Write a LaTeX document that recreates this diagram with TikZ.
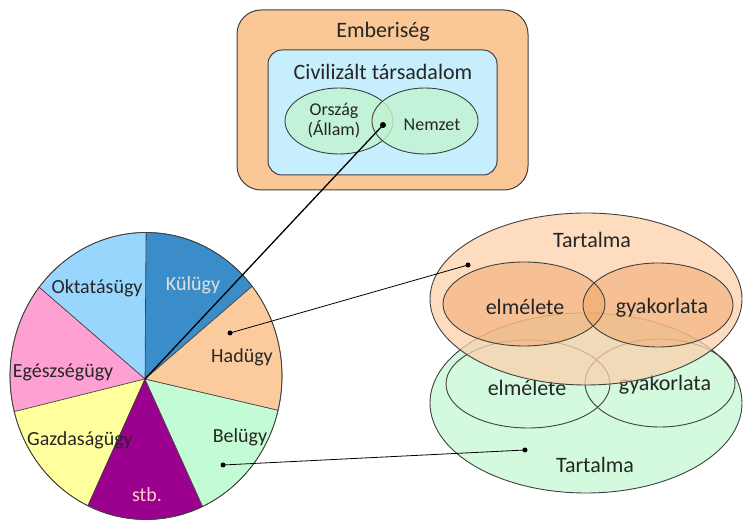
\documentclass[tikz,border=0pt]{standalone}
\usepackage{fontspec}
\setmainfont{Carlito}
\usetikzlibrary{calc,shapes.geometric}
\definecolor{boxorange}{HTML}{FAC897}
\definecolor{boxblue}{HTML}{C6EEFD}
\definecolor{venngreen}{HTML}{C2F4CF}
\definecolor{kul}{HTML}{3A8DC8}
\definecolor{okt}{HTML}{99D6FE}
\definecolor{egesz}{HTML}{FFA0D2}
\definecolor{gazd}{HTML}{FFFF9E}
\definecolor{stbcol}{HTML}{9C008E}
\definecolor{bel}{HTML}{C3FCD4}
\definecolor{had}{HTML}{FCCB9D}
\definecolor{rorange}{HTML}{FCD0AA}
\definecolor{rinner}{HTML}{F0A060}
\definecolor{rgreen}{HTML}{D3F9DE}
\definecolor{edgecol}{HTML}{404040}
\definecolor{txt}{HTML}{262626}
\newcommand\pieslice[3]{%
  \filldraw[fill=#1, draw=edgecol, line width=0.6pt] (pv) --
    ($(pc)+(#2:136pt and 143.5pt)$)
    arc[start angle=#2, end angle=#3, x radius=136pt, y radius=143.5pt] -- cycle;}
\begin{document}
\begin{tikzpicture}[x=1pt,y=1pt,
  roundbox/.style={draw=edgecol, line width=1pt, rectangle, rounded corners=#1, inner sep=0pt},
  vennell/.style={draw=edgecol, line width=0.9pt, ellipse, fill=venngreen, fill opacity=0.8, inner sep=0pt},
  bigtext/.style={font=\fontsize{22}{26}\selectfont, text=txt, inner sep=0pt},
  midtext/.style={font=\fontsize{18}{20}\selectfont, text=txt, inner sep=0pt, align=center},
  pietext/.style={font=\fontsize{20}{24}\selectfont, text=txt, inner sep=0pt},
  dotnode/.style={circle, fill=black, inner sep=0pt, minimum size=6pt},
  conn/.style={draw=black, line width=0.8pt},
  rell/.style={draw=edgecol, line width=0.9pt}]
\useasboundingbox (0,0) rectangle (743,521);

% ---------- top box ----------
\node[roundbox=24pt, fill=boxorange, minimum width=291pt, minimum height=180pt] (emb) at (382.5,421) {};
\node[roundbox=14pt, fill=boxblue, minimum width=229pt, minimum height=125pt] (civ) at (382.5,408.5) {};
\node[bigtext] (embt) at (383,489) {Emberiség};
\node[bigtext] (civt) at (383,449) {Civilizált társadalom};
\node[vennell, minimum width=108pt, minimum height=66pt] (orszag) at (339,400) {};
\node[vennell, minimum width=106pt, minimum height=66pt] (nemzet) at (425,400) {};
\node[midtext] (orszagt) at (334,400) {Ország\\(Állam)};
\node[midtext] (nemzett) at (432,396) {Nemzet};

% ---------- pie ----------
\coordinate (pc) at (146,145);
\coordinate (pv) at (145,142);
\pieslice{kul}{38.7}{90}
\pieslice{okt}{90}{141.8}
\pieslice{egesz}{141.8}{194.4}
\pieslice{gazd}{194.4}{244.7}
\pieslice{stbcol}{244.7}{294.6}
\pieslice{bel}{294.6}{346.2}
\pieslice{had}{346.2}{398.7}
\draw[draw=edgecol, line width=0.8pt] (pc) ellipse [x radius=136pt, y radius=143.5pt];
\node[pietext, text=white!88!black] (kult) at (193,236) {Külügy};
\node[pietext] (oktt) at (97,233) {Oktatásügy};
\node[pietext] (egeszt) at (63,149) {Egészségügy};
\node[pietext] (hadt) at (242,164) {Hadügy};
\node[pietext] (gazdt) at (80,81) {Gazdaságügy};
\node[pietext] (belt) at (240,84) {Belügy};
\node[pietext, text=pink!80!white] (stbt) at (147,26) {stb.};

% ---------- right: green ----------
\fill[rgreen] (586,118) ellipse [x radius=156pt, y radius=90pt];
\draw[rell] (586,118) ellipse [x radius=156pt, y radius=90pt];
\draw[rell] (528,137) ellipse [x radius=82pt, y radius=44pt];
\draw[rell] (660,138) ellipse [x radius=75pt, y radius=44pt];
\node[bigtext] (gelm) at (527,133) {elmélete};
\node[bigtext] (ggyak) at (665,136) {gyakorlata};
\node[bigtext] (gtart) at (595,56) {Tartalma};

% ---------- right: orange ----------
\fill[rorange, fill opacity=0.75] (586,222) ellipse [x radius=156pt, y radius=86pt];
\draw[rell] (586,222) ellipse [x radius=156pt, y radius=86pt];
\fill[rinner, fill opacity=0.45] (524,217) ellipse [x radius=81pt, y radius=42pt];
\fill[rinner, fill opacity=0.45] (658,216) ellipse [x radius=75pt, y radius=42pt];
\draw[rell] (524,217) ellipse [x radius=81pt, y radius=42pt];
\draw[rell] (658,216) ellipse [x radius=75pt, y radius=42pt];
\node[bigtext] (otart) at (592,281) {Tartalma};
\node[bigtext] (oelm) at (525,214) {elmélete};
\node[bigtext] (ogyak) at (662,213) {gyakorlata};

% ---------- dots and connectors ----------
\node[dotnode] (dnem) at (383,396) {};
\node[dotnode, minimum size=5pt] (dhad) at (230,188) {};
\node[dotnode, minimum size=5pt] (dbel) at (223,56) {};
\node[dotnode, minimum size=5pt] (dor) at (468,256) {};
\node[dotnode, minimum size=5pt] (dgr) at (525,71) {};
\draw[draw=black, line width=1.3pt] (dnem.center) -- (pv);
\draw[conn] (dhad.center) -- (dor.center);
\draw[conn] (dbel.center) -- (dgr.center);
\end{tikzpicture}
\end{document}
